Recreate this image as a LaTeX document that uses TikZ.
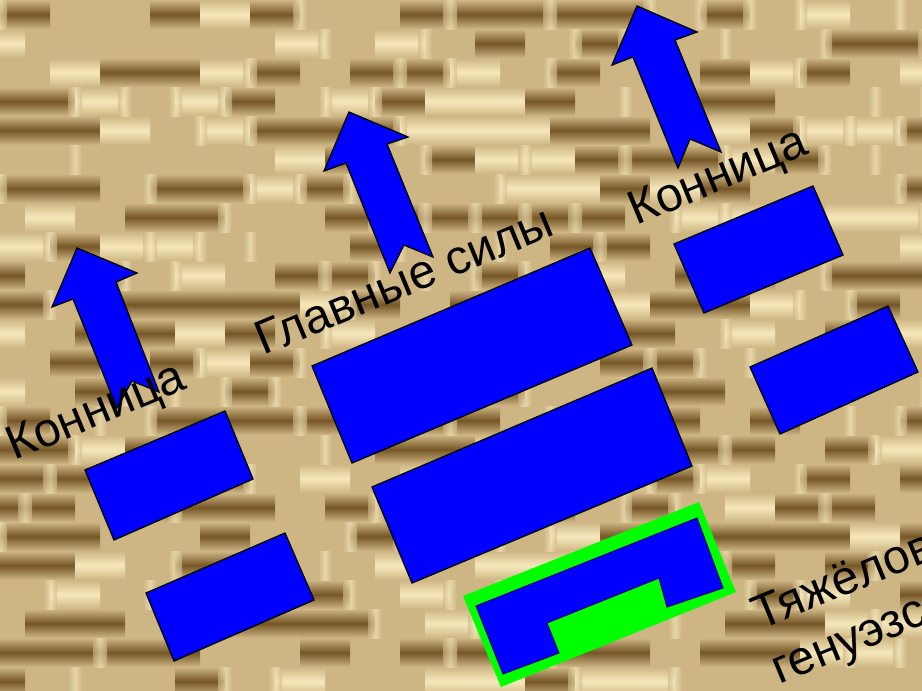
\documentclass[tikz,border=0pt]{standalone}
\usepackage{fontspec}
\setmainfont{Liberation Sans}
\begin{document}
\begin{tikzpicture}[x=1pt,y=-1pt]
\definecolor{bgmid}{RGB}{206,182,132}
\definecolor{bgdark}{RGB}{118,86,38}
\definecolor{bglight}{RGB}{246,232,188}
\definecolor{unitblue}{RGB}{0,0,255}
\definecolor{unitgreen}{RGB}{0,255,0}
\tikzset{
  unit/.style={fill=unitblue,draw=black,line width=1.3pt,line join=miter},
  march/.style={fill=unitblue,draw=black,line width=1.3pt,line join=miter},
  label/.style={font=\fontsize{48}{55}\selectfont,text=black,rotate=22.5,anchor=base west,inner sep=0pt}
}
\useasboundingbox (0,0) rectangle (922,691);
\clip (0,0) rectangle (922,691);
% background weave
\fill[bgmid] (0,0) rectangle (922,691);
\pgfmathsetseed{11}
\foreach \r in {0,...,24}{
  \foreach \c in {0,...,19}{
    \pgfmathrandominteger{\k}{0}{4}
    \pgfmathsetmacro{\xo}{\c*50-mod(\r,2)*25}
    \pgfmathsetmacro{\yo}{\r*29}
    \ifnum\k<2 \shade[top color=bgmid,bottom color=bgmid,middle color=bgdark] (\xo,\yo) rectangle ++(50,29);\fi
    \ifnum\k=2 \shade[top color=bgmid,bottom color=bgmid,middle color=bglight] (\xo,\yo) rectangle ++(50,29);\fi
  }
}
\foreach \r in {0,...,24}{
  \foreach \c in {0,...,19}{
    \pgfmathrandominteger{\k}{0}{2}
    \pgfmathsetmacro{\xo}{\c*50-mod(\r,2)*25}
    \pgfmathsetmacro{\yo}{\r*29}
    \ifnum\k=0 \shade[left color=bgmid,right color=bgmid,middle color=bglight,opacity=.65] (\xo-7,\yo) rectangle ++(14,29);\fi
  }
}
% arrows
\draw[march] (77,248) -- (137,273) -- (116,282) -- (159,392) -- (132,381) -- (117,408) -- (73,299) -- (52,307) -- cycle;
\draw[march] (349,112) -- (408,137) -- (387,144) -- (433,257) -- (404,245) -- (390,273) -- (346,163) -- (324,171) -- cycle;
\draw[march] (637,6) -- (697,32) -- (675,40) -- (721,152) -- (690,139) -- (678,168) -- (633,57) -- (612,65) -- cycle;
% units
\draw[unit] (85,470) -- (225,411) -- (253,479) -- (114,540) -- cycle;
\draw[unit] (146,593) -- (285,533) -- (314,600) -- (174,661) -- cycle;
\draw[unit] (312,366) -- (590,248) -- (632,345) -- (352,463) -- cycle;
\draw[unit] (372,487) -- (652,368) -- (692,466) -- (412,583) -- cycle;
\draw[unit] (674,244) -- (813,186) -- (843,255) -- (704,313) -- cycle;
\draw[unit] (750,367) -- (888,306) -- (918,372) -- (780,434) -- cycle;
% genoese block
\fill[unitgreen] (463,596) -- (699,502) -- (736,592) -- (501,687) -- cycle;
\filldraw[fill=unitblue,draw=black!55!blue,line width=1pt] (476,606) -- (697,518) -- (723,588) -- (667,607) -- (659,578) -- (547,623) -- (559,653) -- (503,674) -- cycle;
% labels
\node[label] (cavL) at (14,461) {Конница};
\node[label] (main) at (263,356) {Главные силы};
\node[label] (cavR) at (636,226) {Конница};
\node[label] (genA) at (760,631) {Тяжёловооружённая};
\node[label] (genB) at (779,685) {генуэзская пехота};
\end{tikzpicture}
\end{document}
